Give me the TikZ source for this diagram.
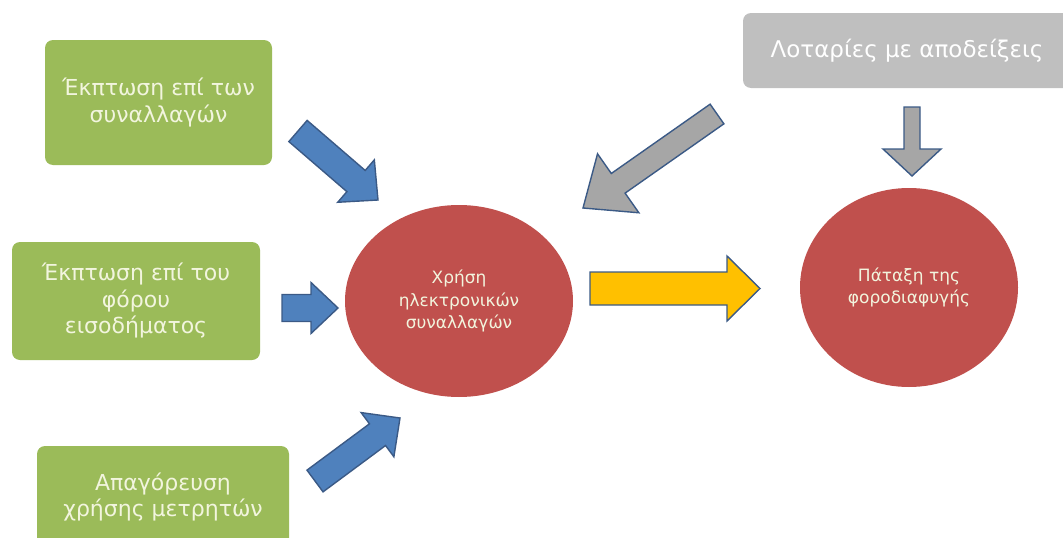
\documentclass[tikz,border=0pt]{standalone}
\usepackage{fontspec}
\setmainfont{DejaVu Sans}
\usetikzlibrary{calc,positioning,shapes.geometric}

\definecolor{boxgreen}{HTML}{9BBB59}
\definecolor{boxgray}{HTML}{BFBFBF}
\definecolor{circred}{HTML}{C0504D}
\definecolor{arrblue}{HTML}{4F81BD}
\definecolor{arrgray}{HTML}{A6A6A6}
\definecolor{arryellow}{HTML}{FFC000}
\definecolor{arredge}{HTML}{3B5A86}
\definecolor{softwhite}{HTML}{F2F5DE}

% block arrow: [style]{tail}{tip}{shaft}{head}{head length}
\newcommand\blockarrow[6][]{%
	\coordinate (ba) at ($(#3)!#6!(#2)$);
	\draw[#1] ($(#2)!0.5*#4!90:(#3)$) -- ($(ba)!0.5*#4!90:(#3)$)
		-- ($(ba)!0.5*#5!90:(#3)$) -- (#3) -- ($(ba)!0.5*#5!-90:(#3)$)
		-- ($(ba)!0.5*#4!-90:(#3)$) -- ($(#2)!0.5*#4!-90:(#3)$) -- cycle;
}

\begin{document}
\begin{tikzpicture}[
			x=1pt, y=-1pt,
			cause/.style={fill=boxgreen, rounded corners=8pt, text=softwhite, align=center,
				font={\fontsize{22}{26.5}\selectfont}, inner sep=0pt},
			extra/.style={cause, fill=boxgray, text=white, font={\fontsize{23}{27}\selectfont}},
			goal/.style={ellipse, fill=circred, text=softwhite, align=center,
				font={\fontsize{17}{22.5}\selectfont}, inner sep=0pt},
			push/.style={fill=arrblue, draw=arredge, line width=1.4pt, line join=miter},
			side/.style={push, fill=arrgray},
			lead/.style={push, fill=arryellow}
	]
	\useasboundingbox (0,0) rectangle (1063,538);

	\node[cause, minimum width=227pt, minimum height=125pt] (disc) at (158.5,102.5)
		{Έκπτωση επί των\\συναλλαγών};
	\node[cause, minimum width=248pt, minimum height=118pt] (tax) at (136,301)
		{Έκπτωση επί του\\φόρου\\εισοδήματος};
	\node[cause, minimum width=252pt, minimum height=102pt] (cash) at (163,497)
		{Απαγόρευση\\χρήσης μετρητών};
	\node[extra, minimum width=328pt, minimum height=75pt] (lotto) at (907,50.5)
		{Λοταρίες με αποδείξεις};

	\node[goal, minimum width=228pt, minimum height=192pt] (use) at (459,301)
		{Χρήση\\ηλεκτρονικών\\συναλλαγών};
	\node[goal, minimum width=218pt, minimum height=199pt] (fight) at (909,287.5)
		{Πάταξη της\\φοροδιαφυγής};

	% arrow ends
	\coordinate (discT) at (298,131);   \coordinate (discH) at (378,200);
	\coordinate (taxT) at (282,308);    \coordinate (taxH) at (338,308);
	\coordinate (cashT) at (315,481);   \coordinate (cashH) at (400,418);
	\coordinate (lotT) at (717,114);    \coordinate (lotH) at (583,208);
	\coordinate (lotdT) at (912,107);   \coordinate (lotdH) at (912,176);
	\coordinate (useT) at (590,288.5);  \coordinate (useH) at (760,288.5);

	\blockarrow[push]{discT}{discH}{28pt}{56pt}{29pt}
	\blockarrow[push]{taxT}{taxH}{27pt}{51pt}{27pt}
	\blockarrow[push]{cashT}{cashH}{27pt}{55pt}{28pt}
	\blockarrow[side]{lotT}{lotH}{24pt}{72pt}{43pt}
	\blockarrow[side]{lotdT}{lotdH}{16pt}{58pt}{27pt}
	\blockarrow[lead]{useT}{useH}{33pt}{65pt}{33pt}
\end{tikzpicture}
\end{document}
